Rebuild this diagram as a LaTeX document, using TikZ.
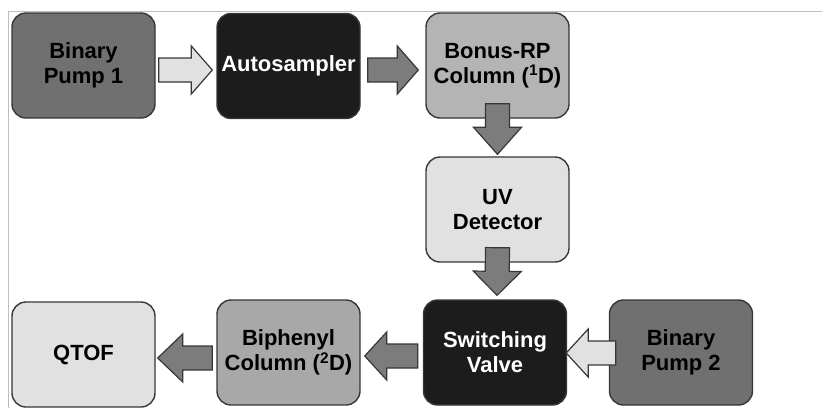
\documentclass[tikz,border=0pt]{standalone}
\usepackage{fontspec}
\setmainfont{Liberation Sans}
\usepackage{tikz}
\usepackage{xcolor}
\usetikzlibrary{positioning,calc}
\definecolor{pumpgray}{RGB}{112,112,112}
\definecolor{unitblack}{RGB}{28,28,28}
\definecolor{columngray}{RGB}{180,180,180}
\definecolor{biphgray}{RGB}{168,168,168}
\definecolor{palegray}{RGB}{225,225,225}
\definecolor{edgegray}{RGB}{55,55,55}
\definecolor{flowgray}{RGB}{124,124,124}
\definecolor{framegray}{RGB}{190,190,190}

\tikzset{
  unit/.style={draw=edgegray, line width=1.4pt, rounded corners=14pt,
    minimum width=143pt, minimum height=105pt, inner sep=0pt,
    align=center, font=\fontsize{22}{25}\selectfont\bfseries},
  lightflow/.style={draw=edgegray, line width=1.2pt, fill=palegray},
  darkflow/.style={draw=edgegray, line width=1.2pt, fill=flowgray}
}

% block arrow between two points: {style}{tail}{tip}{head length}
\newcommand{\flowarrow}[4]{%
  \coordinate (fa-a) at (#2);
  \coordinate (fa-b) at (#3);
  \coordinate (fa-h) at ($(fa-b)!#4!(fa-a)$);
  \draw[#1] ($(fa-a)!12pt!90:(fa-b)$) -- ($(fa-h)!12pt!90:(fa-b)$)
    -- ($(fa-h)!24pt!90:(fa-b)$) -- (fa-b) -- ($(fa-h)!24pt!-90:(fa-b)$)
    -- ($(fa-h)!12pt!-90:(fa-b)$) -- ($(fa-a)!12pt!-90:(fa-b)$) -- cycle;
}

\begin{document}
\begin{tikzpicture}[x=1pt,y=-1pt]
    \useasboundingbox (0,0) rectangle (822,408);

    % frame lines (top and left)
    \draw[framegray, line width=1pt] (8,408) -- (8,11) -- (822,11);

    % first dimension
    \node[unit, fill=pumpgray] (pump1) at (83.5,65.5) {Binary\\Pump 1};
    \node[unit, fill=unitblack, text=white] (auto) at (288.5,66) {Autosampler};
    \node[unit, fill=columngray] (bonus) at (497.5,65.5) {Bonus-RP\\Column (\textsuperscript{1}D)};
    \node[unit, fill=palegray] (uv) at (497.5,209.5) {UV\\Detector};

    % second dimension
    \node[unit, fill=unitblack, text=white] (valve) at (495,352.5) {Switching\\Valve};
    \node[unit, fill=pumpgray] (pump2) at (681,352.5) {Binary\\Pump 2};
    \node[unit, fill=biphgray] (biph) at (288.5,352.5) {Biphenyl\\Column (\textsuperscript{2}D)};
    \node[unit, fill=palegray] (qtof) at (83.5,354.5) {QTOF};

    % flow path
    \flowarrow{lightflow}{$(pump1.east)+(3,4.5)$}{$(auto.west)+(-4,4)$}{21pt}
    \flowarrow{darkflow}{$(auto.east)+(7,4)$}{$(bonus.west)+(-7,4.5)$}{21pt}
    \flowarrow{darkflow}{$(bonus.south)+(0,-15)$}{$(uv.north)+(0,-2)$}{27pt}
    \flowarrow{darkflow}{$(uv.south)+(0,-15)$}{$(valve.north)+(2,-4)$}{24pt}
    \flowarrow{lightflow}{$(pump2.west)+(7,0.5)$}{$(valve.east)+(-1,0.5)$}{22pt}
    \flowarrow{darkflow}{$(valve.west)+(-5,3.5)$}{$(biph.east)+(4,3.5)$}{22pt}
    \flowarrow{darkflow}{$(biph.west)+(-4,5.5)$}{$(qtof.east)+(2,3.5)$}{25pt}

\end{tikzpicture}
\end{document}
